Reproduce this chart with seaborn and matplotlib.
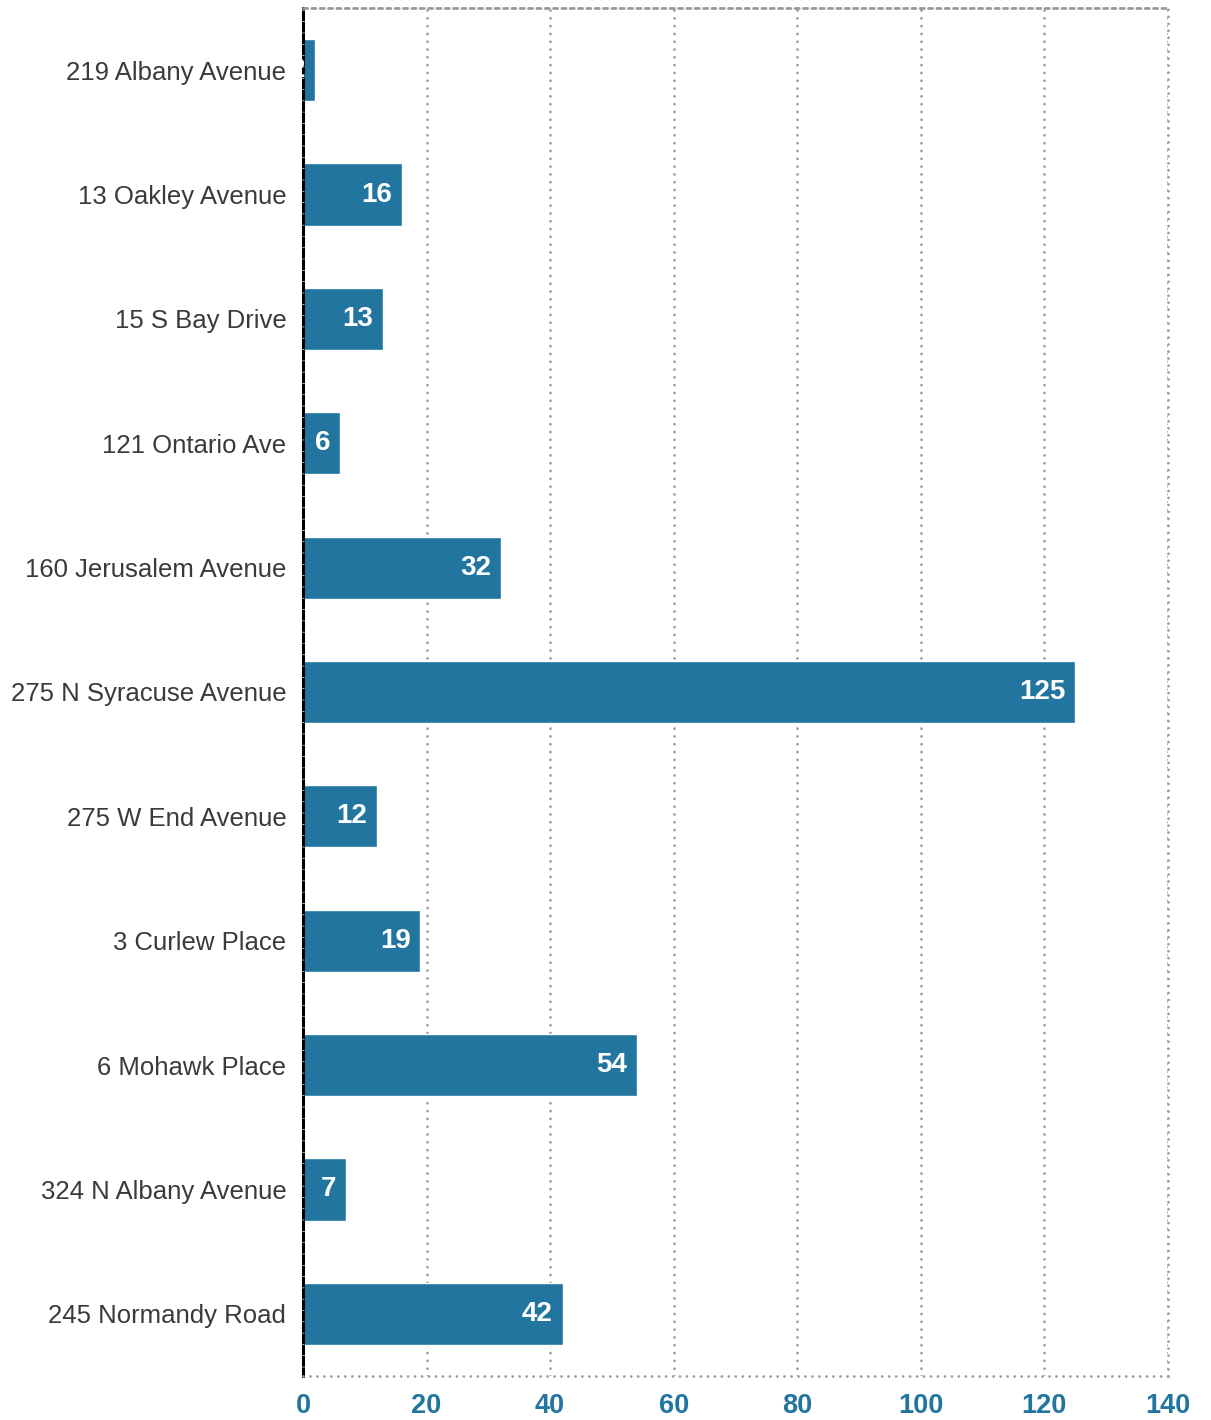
import pandas as pd
import matplotlib.pyplot as plt
import seaborn as sns

addresses = ['219 Albany Avenue', '13 Oakley Avenue', '15 S Bay Drive', '121 Ontario Ave',
             '160 Jerusalem Avenue', '275 N Syracuse Avenue', '275 W End Avenue',
             '3 Curlew Place', '6 Mohawk Place', '324 N Albany Avenue', '245 Normandy Road']
counts = [2, 16, 13, 6, 32, 125, 12, 19, 54, 7, 42]
xticks = [0, 20, 40, 60, 80, 100, 120, 140]

df = pd.DataFrame({'address': addresses, 'count': counts})

sns.set_style('white')
plt.rcParams['font.family'] = ['Liberation Sans', 'DejaVu Sans']

blue = '#21759f'
grey = '#9a9a9a'
fig = plt.figure(figsize=(12.11, 14.2), dpi=100)
ax = fig.add_axes([303 / 1211, 44 / 1420, 865 / 1211, 1368 / 1420])

sns.barplot(data=df, x='count', y='address', orient='h', color=blue,
            saturation=1, width=0.5, ax=ax)

for i, v in enumerate(counts):
    ax.annotate(str(v), (v, i), xytext=(-7, 0), textcoords='offset points',
                ha='right', va='center', color='white', fontsize=20,
                fontweight='bold')

ax.set_xlim(0, 140)
ax.set_ylim(10.5, -0.5)
ax.set_xticks(xticks)
ax.set_xticklabels([str(t) for t in xticks], color=blue, fontweight='bold', fontsize=19.5)
ax.tick_params(axis='y', labelsize=18.5, labelcolor='#3a3a3a', length=0, pad=12)
ax.tick_params(axis='x', length=0, pad=12)
ax.set_xlabel('')
ax.set_ylabel('')

ax.grid(axis='x', color=grey, linestyle=(0, (0.01, 2.8)), linewidth=2,
        dash_capstyle='round')
ax.set_axisbelow(True)

for side in ['top', 'right', 'bottom']:
    ax.spines[side].set_visible(True)
    ax.spines[side].set_color(grey)
    ax.spines[side].set_linewidth(2)
    ax.spines[side].set_capstyle('round')
ax.spines['top'].set_linestyle((0, (1.5, 1.5)))
ax.spines['right'].set_linestyle((0, (0.01, 2.5)))
ax.spines['bottom'].set_linestyle((0, (0.01, 2.5)))
ax.spines['left'].set_color('black')
ax.spines['left'].set_linewidth(2.2)
ax.spines['left'].set_linestyle((0, (2.5, 1.2)))

fig.savefig('out.png', dpi=100)
